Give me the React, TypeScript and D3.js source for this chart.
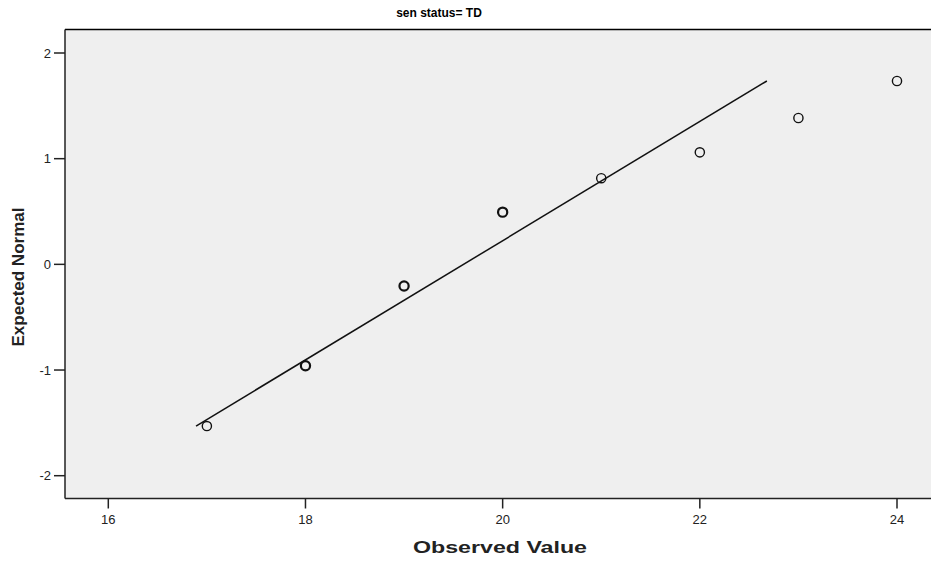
import React from "react";
import * as d3 from "d3";

const title = "sen status= TD";
const xLabel = "Observed Value";
const yLabel = "Expected Normal";
const observed = [17, 18, 19, 20, 21, 22, 23, 24];
const expected = [-1.53, -0.96, -0.205, 0.494, 0.815, 1.06, 1.385, 1.735];
const duplicates = [1, 2, 3, 3, 1, 1, 1, 1];
const lineX = [16.89, 22.68];
const lineY = [-1.53, 1.735];
const xTicks = [16, 18, 20, 22, 24];
const yTicks = [-2, -1, 0, 1, 2];

const W = 931;
const H = 561;
const left = 65;
const right = 931;
const top = 29.5;
const bottom = 498.5;

export default function App() {
  const x = d3.scaleLinear().domain([16, 24]).range([108.3, 897]);
  const y = d3.scaleLinear().domain([-2, 2]).range([475.7, 53]);
  const line = d3
    .line<number>()
    .x((_, i) => x(lineX[i]))
    .y((d) => y(d));
  const font = "Arial, 'Liberation Sans', Helvetica, sans-serif";
  return (
    <svg
      width={W}
      height={H}
      style={{ position: "absolute", left: 0, top: 0, background: "#fff" }}
      fontFamily={font}
    >
      <rect x={left} y={top} width={right - left} height={bottom - top} fill="#efefef" />
      <text x={439} y={17} textAnchor="middle" fontSize={12} fontWeight="bold" fill="#000">
        {title}
      </text>
      <line x1={left} x2={right} y1={top} y2={top} stroke="#000" strokeWidth={1.5} />
      <line x1={left} x2={left} y1={top} y2={bottom} stroke="#222" strokeWidth={1.5} />
      <line x1={left} x2={right} y1={bottom} y2={bottom} stroke="#222" strokeWidth={1.5} />
      {yTicks.map((t) => (
        <g key={"y" + t}>
          <line x1={54} x2={left} y1={y(t)} y2={y(t)} stroke="#222" strokeWidth={1.5} />
          <text x={51} y={y(t) + 4.5} textAnchor="end" fontSize={13} fill="#222">
            {t}
          </text>
        </g>
      ))}
      {xTicks.map((t) => (
        <g key={"x" + t}>
          <line x1={x(t)} x2={x(t)} y1={bottom} y2={bottom + 10} stroke="#222" strokeWidth={1.5} />
          <text x={x(t)} y={524} textAnchor="middle" fontSize={13} fill="#222">
            {t}
          </text>
        </g>
      ))}
      <text
        x={500}
        y={553}
        textAnchor="middle"
        fontSize={17}
        fontWeight="bold"
        fill="#222"
        textLength={174}
        lengthAdjust="spacingAndGlyphs"
      >
        {xLabel}
      </text>
      <text
        transform={`translate(24, 277) rotate(-90)`}
        textAnchor="middle"
        fontSize={16}
        fontWeight="bold"
        fill="#222"
        fontFamily="'Liberation Sans Narrow', 'Arial Narrow', Arial, sans-serif"
        textLength={139}
        lengthAdjust="spacingAndGlyphs"
      >
        {yLabel}
      </text>
      <path d={line(lineY) || ""} fill="none" stroke="#111" strokeWidth={1.5} />
      {observed.map((o, i) => (
        <circle
          key={"p" + i}
          cx={x(o)}
          cy={y(expected[i])}
          r={4.6}
          fill="none"
          stroke="#111"
          strokeWidth={duplicates[i] > 1 ? 2.2 : 1.4}
        />
      ))}
    </svg>
  );
}
